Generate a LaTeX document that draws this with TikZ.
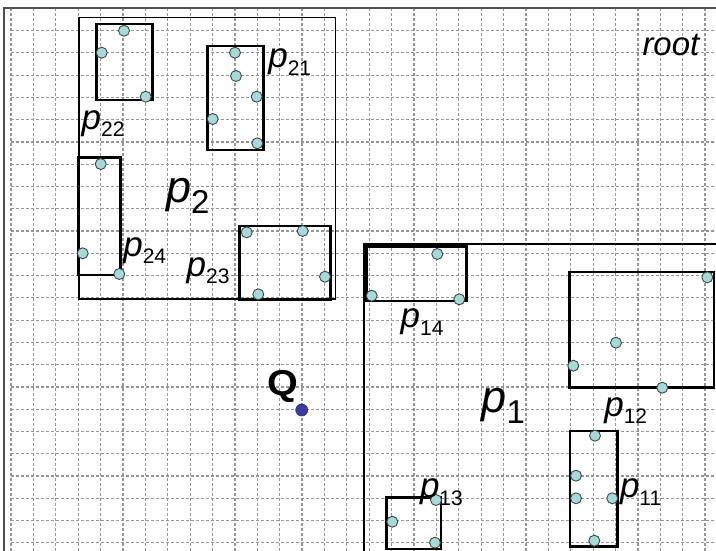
\documentclass[tikz,border=0pt]{standalone}
\usepackage{graphicx}
\usepackage{fontspec}
\setmainfont{Liberation Sans}
\definecolor{ptfill}{HTML}{A8D8D8}
\definecolor{ptline}{HTML}{3A4A4A}
\definecolor{qdot}{HTML}{3B3BA0}
\definecolor{gridc}{HTML}{959595}
\definecolor{framec}{HTML}{505050}
\newcommand\smallp[1]{{\fontsize{35}{36}\selectfont\itshape p}\lower7.5pt\hbox{\fontsize{21}{22}\selectfont #1}}
\newcommand\bigp[1]{{\fontsize{45}{46}\selectfont\itshape p}\lower11pt\hbox{\fontsize{33}{34}\selectfont #1}}
\begin{document}
\begin{tikzpicture}[x=1pt,y=-1pt,
  gridline/.style={draw=gridc,line width=1.2pt,dash pattern=on 3pt off 2pt},
  mbr/.style={draw=black,line width=2.6pt},
  region/.style={draw=black,line width=1.1pt},
  pt/.style={circle,fill=ptfill,draw=ptline,line width=0.9pt,minimum size=11pt,inner sep=0pt},
  lab/.style={anchor=base west,inner sep=0pt,outer sep=0pt}]
\useasboundingbox (0,0) rectangle (716,550);
\fill[white] (0,0) rectangle (716,550);
\begin{scope}
\clip (0,0) rectangle (716,550);
% grid
\foreach \k in {0,...,31} \draw[gridline] ({11+22.39*\k},8.4) -- ({11+22.39*\k},552);
\foreach \k in {0,...,23} \draw[gridline] (11,{30.6+22.27*\k}) -- (716,{30.6+22.27*\k});
% root frame
\draw[framec,line width=2pt] (4,560) -- (4,8.3) -- (720,8.3);
% regions
\draw[region] (79,17.7) rectangle (335.3,299);
\draw[region] (364,244) rectangle (730,570);
% MBRs
\draw[mbr] (96.7,24) rectangle (152.7,100);
\draw[mbr] (207.3,46) rectangle (263.3,150);
\draw[mbr] (78.3,157.3) rectangle (120.7,275);
\draw[mbr] (239.3,226) rectangle (330.7,300);
\draw[mbr] (366.7,246.7) rectangle (466.7,301);
\draw[mbr] (569.3,272) rectangle (714,387.7);
\draw[mbr] (570,431) rectangle (617.3,546.7);
\draw[mbr] (386.7,497.7) rectangle (441,549);
% points
\foreach \x/\y in {124/30.7,101.7/52.7,145.7/96.7,
  235/52.7,236/76,256.7/96.7,212.7/119,257.3/143.3,
  100.7/164,82.7/253.3,119.3/274,
  246.7/232.3,302.7/231,325/276.7,258.3/294.3,
  437.3/254,371.7/295.7,459.3/299.3,
  707.3/277.3,616/342.7,573.3/365.7,662.3/387.7,
  595/435.7,576/475.7,576/498.3,612.3/498.3,594.3/540.7,
  436/500,392.3/521.7,435/542.7}
  \node[pt] at (\x,\y) {};
\end{scope}
% query
\node[circle,fill=qdot,draw=qdot!70!black,line width=0.6pt,minimum size=12pt,inner sep=0pt] (qpt) at (301.7,410) {};
\node[lab] (qlab) at (267,395) {\scalebox{1.1}[1]{\fontsize{36}{38}\selectfont\bfseries Q}};
% labels
\node[lab] (root) at (642.5,55) {\fontsize{33}{34}\selectfont\itshape root};
\node[lab] (l21) at (268.3,67.6) {\smallp{21}};
\node[lab] (l22) at (81.7,129.3) {\smallp{22}};
\node[lab] (l24) at (123.3,256) {\smallp{24}};
\node[lab] (l23) at (186.7,276) {\smallp{23}};
\node[lab] (l14) at (400.7,327.6) {\smallp{14}};
\node[lab] (l12) at (604.3,416) {\smallp{12}};
\node[lab] (l11) at (620,497.6) {\smallp{11}};
\node[lab] (l13) at (420,497.6) {\smallp{13}};
\node[lab] (l2) at (166,202.3) {\bigp{2}};
\node[lab] (l1) at (481.7,412.3) {\bigp{1}};
\end{tikzpicture}
\end{document}
